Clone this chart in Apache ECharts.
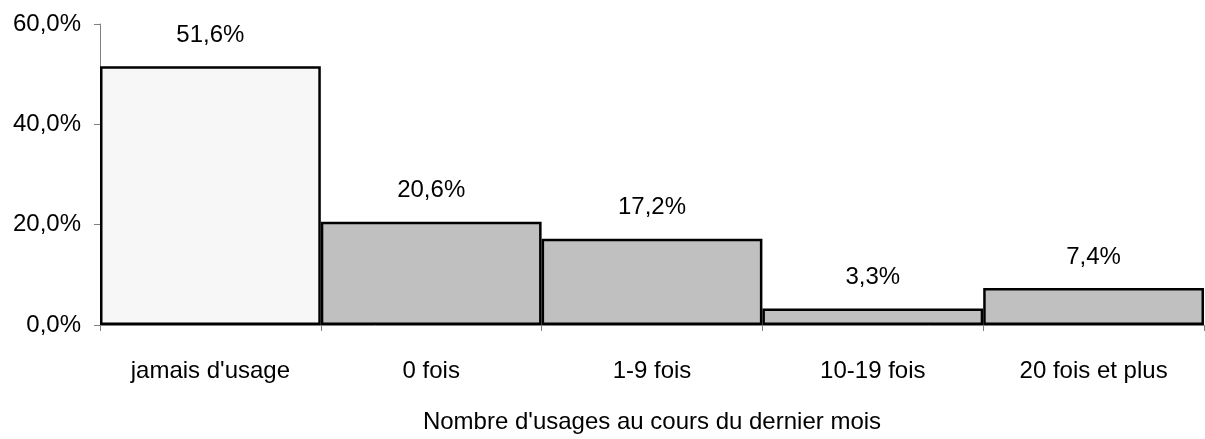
<!DOCTYPE html>
<html>
<head>
<meta charset="utf-8">
<script src="https://cdn.jsdelivr.net/npm/echarts@6/dist/echarts.min.js"></script>
<style>
  html, body { margin: 0; padding: 0; background: #fff; }
  #chart { width: 1205px; height: 439px; }
</style>
</head>
<body>
<div id="chart"></div>
<script>
// catégories et valeurs (%)
const categories = ['jamais d\'usage', '0 fois', '1-9 fois', '10-19 fois', '20 fois et plus']
const values = [51.6, 20.6, 17.2, 3.3, 7.4]
const fills = ['#f7f7f7', '#c0c0c0', '#c0c0c0', '#c0c0c0', '#c0c0c0']

const fmt = v => v.toFixed(1).replace('.', ',') + '%'
const fontSize = 24

const chart = echarts.init(document.getElementById('chart'))
chart.setOption({
  animation: false,
  grid: { left: 100, right: 1, top: 24, bottom: 114, outerBoundsMode: 'none' },
  textStyle: { fontFamily: '"Liberation Sans", Arial, sans-serif' },
  xAxis: {
    type: 'category',
    data: categories,
    name: 'Nombre d\'usages au cours du dernier mois',
    nameLocation: 'middle',
    nameGap: 85,
    nameTextStyle: { fontSize: fontSize, color: '#000' },
    axisLine: { lineStyle: { color: '#808080', width: 1 } },
    axisTick: { show: true, length: 6, lineStyle: { color: '#808080' } },
    axisLabel: { fontSize: fontSize, color: '#000', margin: 34, interval: 0 }
  },
  yAxis: {
    type: 'value',
    min: 0,
    max: 60,
    interval: 20,
    splitLine: { show: false },
    axisLine: { show: true, lineStyle: { color: '#808080', width: 1 } },
    axisTick: { show: true, length: 6, lineStyle: { color: '#808080' } },
    axisLabel: { fontSize: fontSize, color: '#000', margin: 19, formatter: fmt }
  },
  series: [
    {
      type: 'bar',
      barCategoryGap: '0%',
      data: values.map((v, i) => ({
        value: v,
        itemStyle: { color: fills[i] }
      })),
      itemStyle: { borderColor: '#000', borderWidth: 2.5 },
      label: {
        show: true,
        position: 'top',
        distance: 19,
        fontSize: fontSize,
        color: '#000',
        formatter: p => fmt(p.value)
      }
    }
  ]
})
</script>
</body>
</html>
